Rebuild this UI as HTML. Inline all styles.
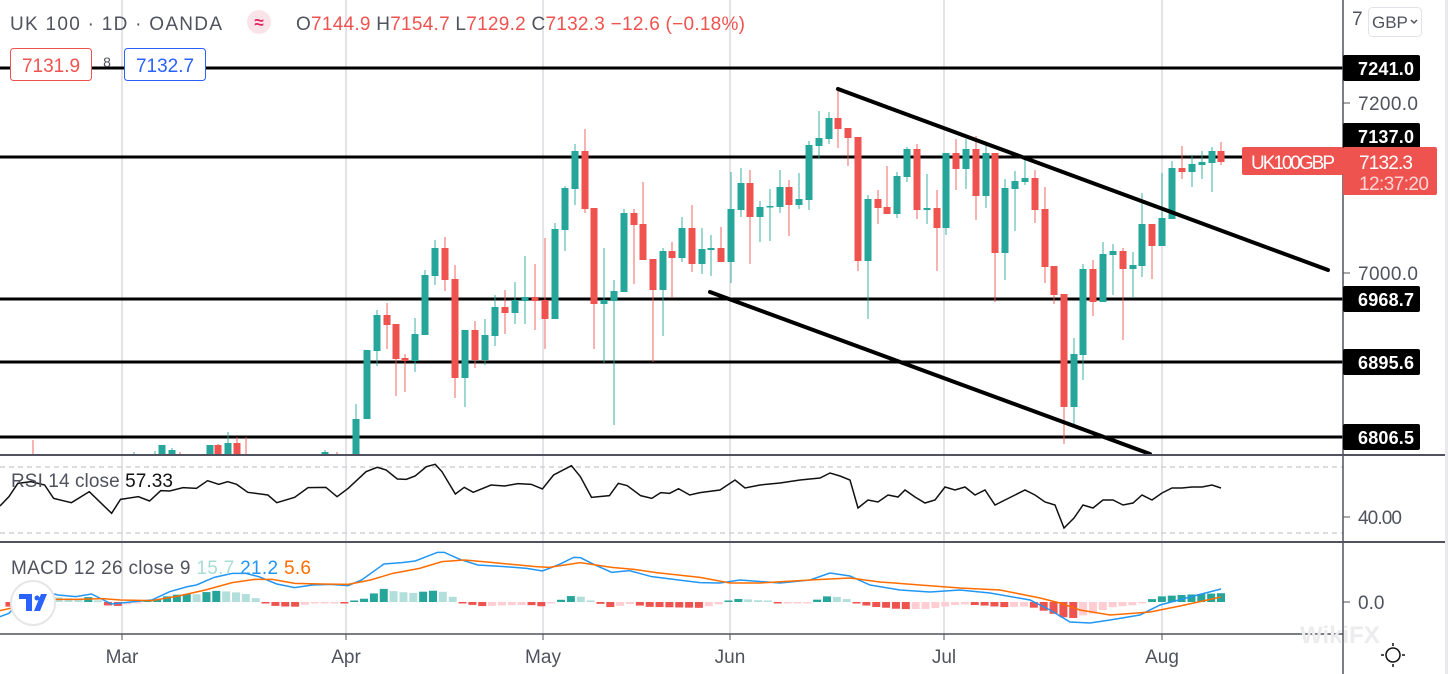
<!DOCTYPE html>
<html><head><meta charset="utf-8">
<style>
body{margin:0;background:#fff;}
svg{display:block;font-family:"Liberation Sans",sans-serif;}
</style></head><body>
<svg id="s" width="1448" height="674" viewBox="0 0 1448 674" xmlns="http://www.w3.org/2000/svg">
<rect width="1448" height="674" fill="#fff"/>
<rect x="1445" y="0" width="3" height="674" fill="#e9e9ee"/>
<g id="grid" stroke="#c9cad1" stroke-width="1"></g>
<g id="hl" stroke="#000" stroke-width="3"></g>
<g id="candles"></g>
<g stroke="#000" stroke-width="4" stroke-linecap="round">
<line x1="838" y1="89" x2="1328" y2="270"/>
<line x1="710" y1="292" x2="1150" y2="454"/>
</g>
<rect x="0" y="456" width="1343" height="200" fill="#fff"/>
<line x1="0" y1="467" x2="1343" y2="467" stroke="#bbb" stroke-dasharray="5,4"/>
<line x1="0" y1="533" x2="1343" y2="533" stroke="#bbb" stroke-dasharray="5,4"/>
<g id="grid2" stroke="#c9cad1" stroke-width="1"></g>
<polyline id="rsi" fill="none" stroke="#111" stroke-width="1.5"/>
<g id="hist"></g>
<polyline id="macd" fill="none" stroke="#2196f3" stroke-width="1.5"/>
<polyline id="sig" fill="none" stroke="#ff6d00" stroke-width="1.5"/>
<line x1="0" y1="455" x2="1445" y2="455" stroke="#50535e" stroke-width="2"/>
<line x1="0" y1="542" x2="1445" y2="542" stroke="#50535e" stroke-width="2"/>
<line x1="0" y1="634" x2="1343" y2="634" stroke="#50535e" stroke-width="1.5"/>
<line x1="1343" y1="0" x2="1343" y2="674" stroke="#50535e" stroke-width="1.5"/>
<text x="10" y="30" font-size="19" fill="#50535e" textLength="212">UK 100 · 1D · OANDA</text>
<circle cx="259" cy="22" r="12" fill="#fbe3ea"/>
<text x="259" y="28" font-size="17" fill="#e0245e" text-anchor="middle" font-weight="bold">≈</text>
<text x="296" y="30" font-size="19" fill="#50535e" textLength="449">O<tspan fill="#ef5350">7144.9</tspan> H<tspan fill="#ef5350">7154.7</tspan> L<tspan fill="#ef5350">7129.2</tspan> C<tspan fill="#ef5350">7132.3 −12.6 (−0.18%)</tspan></text>
<rect x="10.5" y="48.5" width="81" height="32" rx="3" fill="#fff" stroke="#ef5350"/>
<text x="51" y="72" font-size="19" fill="#ef5350" text-anchor="middle">7131.9</text>
<text x="107" y="67" font-size="14" fill="#50535e" text-anchor="middle">8</text>
<rect x="124.5" y="48.5" width="81" height="32" rx="3" fill="#fff" stroke="#2962ff"/>
<text x="165" y="72" font-size="19" fill="#2962ff" text-anchor="middle">7132.7</text>
<g font-size="19" fill="#50535e">
<text x="1352" y="25">7</text>
<line x1="1343" y1="103" x2="1350" y2="103" stroke="#50535e"/>
<text x="1358" y="110" textLength="60">7200.0</text>
<line x1="1343" y1="273" x2="1350" y2="273" stroke="#50535e"/>
<text x="1358" y="280" textLength="60">7000.0</text>
<line x1="1343" y1="517" x2="1350" y2="517" stroke="#50535e"/>
<text x="1358" y="524" textLength="44">40.00</text>
<line x1="1343" y1="602" x2="1350" y2="602" stroke="#50535e"/>
<text x="1358" y="609">0.0</text>
</g>
<rect x="1368.5" y="7.5" width="53" height="29" rx="4" fill="#fff" stroke="#e0e3eb"/>
<text x="1372" y="28" font-size="17" fill="#50535e">GBP</text>
<path d="M1411 20 l3 3 l3 -3" fill="none" stroke="#50535e" stroke-width="1.5"/>
<g id="plabels"></g>
<rect x="1242" y="147" width="101" height="28" rx="2" fill="#ef5350"/>
<text x="1251" y="169" font-size="19" fill="#fff" textLength="84">UK100GBP</text>
<rect x="1343" y="147" width="94" height="48" rx="2" fill="#ef5350"/>
<text x="1359" y="169" font-size="19" fill="#fff" textLength="54">7132.3</text>
<text x="1359" y="190" font-size="19" fill="#fcd6d5" textLength="70">12:37:20</text>
<text x="11" y="487" font-size="19" fill="#50535e" textLength="162">RSI 14 close <tspan fill="#111">57.33</tspan></text>
<text x="11" y="574" font-size="19" fill="#50535e" textLength="300">MACD 12 26 close 9 <tspan fill="#a8dcd6">15.7</tspan> <tspan fill="#2196f3">21.2</tspan> <tspan fill="#ff6d00">5.6</tspan></text>
<circle cx="33" cy="603" r="22" fill="#fff" stroke="#e6e6e6" stroke-width="2"/>
<path d="M19 594 h13 v17 h-6 v-12 h-7z M34 611 l7 -17 h6 l-7 17z" fill="#2962ff"/>
<circle cx="37" cy="598" r="2.5" fill="#2962ff"/>
<g font-size="19" fill="#50535e" text-anchor="middle">
<text x="122" y="663">Mar</text><text x="346" y="663">Apr</text><text x="543" y="663">May</text>
<text x="730" y="663">Jun</text><text x="944" y="663">Jul</text><text x="1162" y="663">Aug</text>
</g>
<g id="tk" stroke="#50535e"></g>
<text x="1300" y="643" font-size="24" fill="#ececee" font-weight="bold">WikiFX</text>
<circle cx="1393" cy="655" r="7" fill="none" stroke="#111" stroke-width="1.5"/>
<g stroke="#111" stroke-width="1.5"><line x1="1393" y1="643" x2="1393" y2="646"/><line x1="1393" y1="664" x2="1393" y2="667"/><line x1="1381" y1="655" x2="1384" y2="655"/><line x1="1402" y1="655" x2="1405" y2="655"/></g>
</svg>
<script>
var NS="http://www.w3.org/2000/svg";
function el(p,t,a){var e=document.createElementNS(NS,t);for(var k in a)e.setAttribute(k,a[k]);document.getElementById(p).appendChild(e);return e;}
var vx=[122,346,543,730,944,1162];
vx.forEach(function(x){el("grid","line",{x1:x,y1:0,x2:x,y2:455});el("grid2","line",{x1:x,y1:455,x2:x,y2:634});el("tk","line",{x1:x,y1:634,x2:x,y2:640});});
[68,157,299,362,437].forEach(function(y){el("hl","line",{x1:0,y1:y,x2:1343,y2:y});});
var labs=[[68,"7241.0"],[136,"7137.0"],[299,"6968.7"],[362,"6895.6"],[437,"6806.5"]];
labs.forEach(function(l){el("plabels","rect",{x:1343,y:l[0]-13,width:77,height:26,rx:2,fill:"#000"});var t=el("plabels","text",{x:1358,y:l[0]+7,"font-size":18,fill:"#fff","font-weight":"bold",textLength:56});t.textContent=l[1];});
var G="#26a69a",R="#ef5350";
var C=[
[33,R,470,480,440,480],[134,G,456,470,452,470],[155,G,456,470,451,470],[162,G,445,470,445,470],[172,G,450,470,448,470],[180,R,455,470,452,470],
[210,G,445,470,445,470],[218,R,445,470,444,470],[228,G,443,470,432,470],[237,R,443,470,437,470],[246,R,455,470,437,470],[325,G,452,470,450,470],[337,R,456,470,452,470],
[356,G,419,470,404,470],[367,G,350,419,350,419],[377,G,315,351,310,366],[387,R,315,325,303,349],[396,R,324,359,324,396],[405,R,358,361,354,392],
[415,G,334,361,318,372],[425,G,275,335,270,335],[435,G,248,276,240,285],[445,R,248,280,237,291],[455,R,279,378,265,398],[465,G,330,378,330,407],
[475,R,330,360,321,368],[485,G,335,360,319,365],[495,G,307,336,295,346],[505,R,307,313,290,334],[515,G,300,313,282,324],[525,G,297,301,256,324],
[535,R,297,301,264,330],[545,R,300,319,238,349],[555,G,229,319,223,319],[565,G,188,230,186,251],[575,G,151,189,144,205],[585,R,151,209,129,213],
[594,R,208,304,208,349],[604,G,300,304,248,363],[614,G,291,301,280,425],[624,G,213,292,209,292],[634,R,213,225,209,284],[643,R,224,260,182,260],
[653,R,259,290,259,362],[663,G,251,290,248,336],[672,R,251,258,242,298],[682,G,228,258,217,262],[692,R,228,264,205,272],[702,G,249,264,228,274],
[711,G,248,250,235,276],[721,R,248,262,227,262],[731,G,209,262,172,283],[741,G,183,210,168,217],[750,R,183,217,170,264],[760,G,207,217,201,242],
[770,G,206,207,189,241],[780,G,187,207,170,213],[789,R,187,205,180,236],[799,G,199,205,173,209],[809,G,145,200,141,210],[819,G,138,146,111,159],
[829,G,118,139,112,144],[838,R,118,129,89,148],[848,R,128,138,128,166],[858,R,137,261,137,271],[868,G,199,261,195,319],[878,R,199,208,190,224],
[887,R,207,214,166,214],[897,G,176,214,172,218],[907,G,149,177,147,182],[917,R,149,210,144,219],[927,G,208,210,174,224],[937,R,208,228,190,271],
[946,G,153,228,153,235],[956,R,153,169,139,190],[966,G,149,169,139,189],[976,R,149,196,136,220],[986,G,153,196,145,208],[995,R,153,253,153,302],
[1005,G,188,253,179,280],[1015,G,181,189,171,231],[1025,G,178,182,157,185],[1035,R,178,210,170,223],[1045,R,209,267,187,283],[1054,R,266,295,266,304],
[1064,R,294,407,294,444],[1074,G,354,407,338,427],[1083,G,269,355,264,380],[1093,R,269,302,260,316],[1103,G,254,302,242,302],[1113,G,251,255,244,295],
[1123,R,251,269,248,340],[1133,G,265,269,252,298],[1142,G,224,266,193,277],[1152,R,224,246,224,279],[1162,G,218,246,173,246],[1172,G,168,219,161,219],
[1182,R,168,172,146,179],[1192,G,164,172,155,187],[1202,G,162,165,151,179],[1212,G,151,163,147,192],[1221,R,151,162,142,165]];
C.forEach(function(c){
 el("candles","line",{x1:c[0],y1:c[4],x2:c[0],y2:c[5],stroke:c[1],"stroke-width":1.5,"stroke-opacity":0.6});
 el("candles","rect",{x:c[0]-3.5,y:c[2],width:7,height:Math.max(1.5,c[3]-c[2]),fill:c[1]});
});
function z(arr){return arr.map(function(p){return [p[0]/2.24,440+p[1]/3];});}
function after(a,x){return a.filter(function(p){return p[0]>x;});}
var rsiA=z([[0,198],[20,170],[40,130],[70,125],[100,135],[120,175],[160,188],[200,155],[250,220],[270,178],[310,170],[335,183],[360,152],[380,153],[410,143],[440,145],[465,122],[490,133],[510,125],[530,133],[555,157],[600,165],[620,188],[660,172],[690,143],[730,142],[755,170],[780,145],[820,95],[845,82],[865,90],[890,117],[910,118],[930,108],[955,80],[975,73],[990,95],[1020,162],[1040,142],[1060,157],[1100,135],[1130,138],[1160,131],[1190,133],[1215,147],[1240,105],[1280,77],[1300,110],[1325,172],[1365,167],[1385,130],[1405,137],[1435,167],[1460,175],[1480,158],[1500,160],[1520,146],[1545,165],[1568,158]]);
var rsiB=[[720,490],[735,480],[745,488],[760,485],[780,483],[800,480],[820,478],[830,473],[840,476],[850,480],[858,508],[868,500],[878,502],[888,495],[898,497],[905,490],[915,497],[925,503],[935,500],[945,487],[955,490],[965,487],[975,495],[985,490],[995,505],[1005,500],[1015,495],[1025,490],[1035,495],[1045,502],[1055,505],[1064,528],[1074,518],[1083,505],[1093,508],[1103,500],[1113,500],[1123,505],[1133,503],[1142,495],[1152,500],[1162,493],[1172,488],[1182,488],[1192,487],[1202,487],[1212,485],[1221,488]];
var rsi=rsiA.concat(after(rsiB,702));
document.getElementById("rsi").setAttribute("points",rsi.map(function(p){return p.join(",")}).join(" "));
var mA=z([[0,530],[20,520],[50,475],[100,455],[130,465],[170,470],[205,462],[250,492],[300,485],[340,480],[380,455],[420,440],[440,435],[480,412],[520,400],[550,400],[580,410],[620,432],[660,443],[700,435],[740,433],[780,437],[810,420],[860,372],[900,368],[930,363],[980,337],[995,337],[1030,358],[1070,375],[1130,380],[1180,385],[1215,393],[1250,375],[1285,352],[1300,353],[1330,373],[1370,397],[1410,392],[1460,410],[1520,420],[1568,428]]);
var mB=[[720,583],[740,580],[780,583],[810,580],[830,573],[850,576],[870,585],[900,590],[930,592],[960,590],[990,593],[1030,600],[1050,610],[1070,622],[1090,623],[1110,620],[1140,615],[1160,605],[1190,597],[1221,589]];
var sA=z([[0,512],[40,500],[100,478],[170,478],[230,476],[270,480],[340,482],[400,468],[460,450],[520,428],[570,418],[610,418],[660,430],[720,432],[780,433],[830,420],[880,400],[940,385],[990,365],[1040,360],[1100,367],[1200,380],[1230,382],[1300,368],[1370,382],[1420,388],[1470,398],[1568,412]]);
var sB=[[730,583],[760,583],[810,580],[850,578],[880,582],[920,585],[960,588],[1000,590],[1040,598],[1060,603],[1080,610],[1110,615],[1150,612],[1180,606],[1221,597]];
var macd=mA.concat(after(mB,702)),sig=sA.concat(after(sB,702));
document.getElementById("macd").setAttribute("points",macd.map(function(p){return p.join(",")}).join(" "));
document.getElementById("sig").setAttribute("points",sig.map(function(p){return p.join(",")}).join(" "));
function interp(a,x){for(var i=1;i<a.length;i++){if(a[i][0]>=x){var p=a[i-1],q=a[i];var t=(x-p[0])/((q[0]-p[0])||1);return p[1]+t*(q[1]-p[1]);}}return a[a.length-1][1];}
var prev=0;
for(var x=1221-9.85*124;x<=1222;x+=9.85){if(x<0){continue;}
 var d=(interp(sig,x)-interp(macd,x))*1.1;
 var col;
 if(d>=0)col=(d>=prev)?"#26a69a":"#b2dfdb";else col=(d<=prev)?"#ef5350":"#ffcdd2";
 var h=Math.abs(d);if(h<1.5)h=1.5;
 el("hist","rect",{x:x-4,y:d>=0?602-h:602,width:8,height:h,fill:col});
 prev=d;}
</script>
</body></html>
